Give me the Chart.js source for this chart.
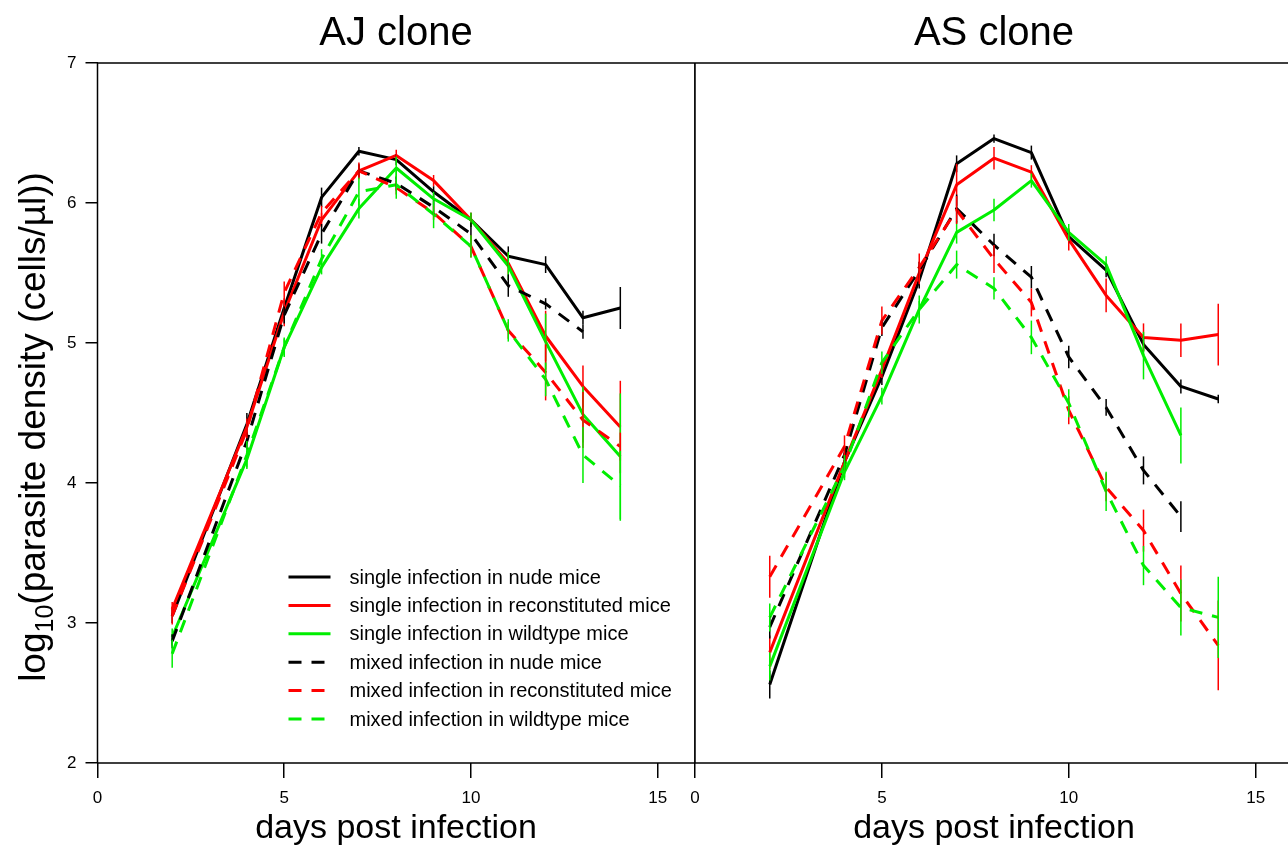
<!DOCTYPE html>
<html>
<head>
<meta charset="utf-8">
<script src="https://cdn.jsdelivr.net/npm/chart.js@4"></script>
<style>
  html, body { margin: 0; padding: 0; background: #fff; overflow: hidden; }
  body { width: 1288px; height: 845px; position: relative; font-family: "Liberation Sans", Arial, sans-serif; color: #000; }
  canvas { position: absolute; top: 0; }
  #aj { left: 0; }
  #as { left: 680px; }
  .lbl { position: absolute; text-align: center; white-space: nowrap; }
  .main { font-size: 40px; line-height: 40px; top: 11px; width: 598px; }
  .xt { font-size: 34px; line-height: 34px; top: 809px; width: 598px; }
  #ytitle { font-size: 37px; line-height: 40px; width: 640px; left: -287px; top: 407px; transform: rotate(-90deg); }
  #ytitle sub { font-size: 25px; vertical-align: -8px; line-height: 0; }
</style>
</head>
<body>
<canvas id="aj" width="695" height="845"></canvas>
<canvas id="as" width="613" height="845"></canvas>
<div class="lbl main" style="left:97px">AJ clone</div>
<div class="lbl main" style="left:695px">AS clone</div>
<div class="lbl xt" style="left:97px">days post infection</div>
<div class="lbl xt" style="left:695px">days post infection</div>
<div class="lbl" id="ytitle">log<sub>10</sub>(parasite density (cells/µl))</div>
<script>
(function () {
  // days sampled
  const days = [2, 4, 5, 6, 7, 8, 9, 10, 11, 12, 13, 14];
  const xTicks = [0, 5, 10, 15];
  const yTicks = [2, 3, 4, 5, 6, 7];

  const seriesLabels = [
    "single infection in nude mice",
    "single infection in reconstituted mice",
    "single infection in wildtype mice",
    "mixed infection in nude mice",
    "mixed infection in reconstituted mice",
    "mixed infection in wildtype mice",
  ];

  // AJ clone
  const ajSingleNude  = [3.05, 4.42, 5.25, 6.04, 6.37, 6.31, 6.08, 5.88, 5.62, 5.56, 5.18, 5.25];
  const ajSingleRecon = [3.10, 4.40, 5.22, 5.88, 6.23, 6.34, 6.16, 5.88, 5.57, 5.05, 4.69, 4.40];
  const ajSingleWild  = [2.90, 4.17, 4.97, 5.54, 5.96, 6.25, 6.03, 5.88, 5.55, 5.01, 4.49, 4.19];
  const ajMixedNude   = [2.87, 4.30, 5.20, 5.78, 6.23, 6.14, 5.97, 5.78, 5.41, 5.28, 5.08, null];
  const ajMixedRecon  = [3.05, 4.38, 5.36, 5.93, 6.23, 6.11, 5.93, 5.69, 5.09, 4.79, 4.45, 4.26];
  const ajMixedWild   = [2.78, 4.20, 4.97, 5.60, 6.08, 6.13, 5.92, 5.69, 5.09, 4.74, 4.20, 3.98];

  const ajSingleNudeErr  = [0.05, 0.08, 0.05, 0.07, 0.03, 0.04, 0.04, 0.05, 0.07, 0.06, 0.05, 0.15];
  const ajSingleReconErr = [0.05, 0.06, 0.10, 0.05, 0.04, 0.04, 0.04, 0.05, 0.08, 0.18, 0.15, 0.33];
  const ajSingleWildErr  = [0.06, 0.06, 0.06, 0.05, 0.07, 0.08, 0.05, 0.05, 0.10, 0.20, 0.20, 0.45];
  const ajMixedNudeErr   = [0.05, 0.06, 0.06, 0.07, 0.05, 0.05, 0.05, 0.08, 0.08, 0.04, 0.05, null];
  const ajMixedReconErr  = [0.06, 0.06, 0.08, 0.05, 0.06, 0.05, 0.05, 0.08, 0.06, 0.20, 0.20, 0.10];
  const ajMixedWildErr   = [0.10, 0.10, 0.07, 0.07, 0.10, 0.10, 0.10, 0.08, 0.08, 0.12, 0.20, 0.25];

  // AS clone
  const asSingleNude  = [2.56, 4.15, 4.76, 5.45, 6.28, 6.46, 6.36, 5.76, 5.52, 4.99, 4.69, 4.60];
  const asSingleRecon = [2.79, 4.15, 4.81, 5.50, 6.13, 6.32, 6.22, 5.74, 5.34, 5.04, 5.02, 5.06];
  const asSingleWild  = [2.69, 4.08, 4.62, 5.24, 5.79, 5.95, 6.16, 5.79, 5.56, 4.91, 4.34, null];
  const asMixedNude   = [2.97, 4.20, 5.11, 5.52, 5.96, 5.70, 5.47, 4.90, 4.54, 4.09, 3.76, null];
  const asMixedRecon  = [3.33, 4.26, 5.16, 5.54, 5.95, 5.60, 5.29, 4.52, 3.97, 3.66, 3.21, 2.84];
  const asMixedWild   = [3.04, 4.12, 4.86, 5.24, 5.56, 5.39, 5.04, 4.57, 3.94, 3.41, 3.11, 3.04];

  const asSingleNudeErr  = [0.10, 0.06, 0.06, 0.06, 0.06, 0.03, 0.05, 0.05, 0.05, 0.05, 0.05, 0.03];
  const asSingleReconErr = [0.12, 0.06, 0.06, 0.08, 0.15, 0.08, 0.05, 0.08, 0.12, 0.10, 0.12, 0.22];
  const asSingleWildErr  = [0.10, 0.06, 0.06, 0.06, 0.08, 0.08, 0.05, 0.06, 0.06, 0.17, 0.20, null];
  const asMixedNudeErr   = [0.08, 0.06, 0.06, 0.06, 0.10, 0.08, 0.08, 0.08, 0.06, 0.10, 0.11, null];
  const asMixedReconErr  = [0.15, 0.08, 0.10, 0.10, 0.10, 0.10, 0.10, 0.10, 0.10, 0.15, 0.20, 0.32];
  const asMixedWildErr   = [0.10, 0.08, 0.08, 0.10, 0.10, 0.08, 0.12, 0.10, 0.14, 0.14, 0.20, 0.29];

  const colors = ["#000000", "#ff0000", "#00ee00", "#000000", "#ff0000", "#00ee00"];
  const DASH = [13, 10];
  const FONT = "'Liberation Sans', Arial, sans-serif";

  function makeDatasets(vals, errs) {
    return vals.map((v, i) => ({
      label: seriesLabels[i],
      data: days.map((d, k) => ({ x: d, y: v[k] })),
      errors: errs[i],
      borderColor: colors[i],
      backgroundColor: colors[i],
      borderWidth: 3,
      borderDash: i >= 3 ? DASH : [],
      borderCapStyle: "butt",
      borderJoinStyle: "round",
      pointRadius: 0,
      tension: 0,
      fill: false,
      order: 6 - i,
    }));
  }

  const frame = {
    id: "frame",
    afterDraw(chart) {
      const { ctx, chartArea: a } = chart;
      ctx.save();
      ctx.strokeStyle = "#000";
      ctx.lineWidth = 1.5;
      ctx.beginPath();
      ctx.moveTo(a.left, a.top); ctx.lineTo(a.right, a.top);
      ctx.moveTo(a.left, a.top); ctx.lineTo(a.left, a.bottom);
      ctx.moveTo(a.right, a.top); ctx.lineTo(a.right, a.bottom);
      ctx.moveTo(a.left, a.bottom); ctx.lineTo(a.right, a.bottom);
      ctx.stroke();
      ctx.restore();
    },
  };

  const errorBars = {
    id: "errorBars",
    afterDatasetsDraw(chart) {
      const { ctx, scales } = chart;
      ctx.save();
      ctx.lineWidth = 1.5;
      chart.data.datasets.forEach((ds) => {
        ctx.strokeStyle = ds.borderColor;
        ds.data.forEach((p, k) => {
          const e = ds.errors[k];
          if (p.y === null || e === null) return;
          const x = scales.x.getPixelForValue(p.x);
          ctx.beginPath();
          ctx.moveTo(x, scales.y.getPixelForValue(p.y - e));
          ctx.lineTo(x, scales.y.getPixelForValue(p.y + e));
          ctx.stroke();
        });
      });
      ctx.restore();
    },
  };

  const legendBox = {
    id: "legendBox",
    afterDraw(chart) {
      if (!chart.options.plugins.legendBox || !chart.options.plugins.legendBox.show) return;
      const { ctx, chartArea: a } = chart;
      ctx.save();
      ctx.font = "20px " + FONT;
      ctx.textBaseline = "middle";
      ctx.fillStyle = "#000";
      chart.data.datasets.forEach((ds, i) => {
        const y = 577 + i * 28.4;
        ctx.strokeStyle = ds.borderColor;
        ctx.lineWidth = 3;
        ctx.setLineDash(ds.borderDash);
        ctx.beginPath();
        ctx.moveTo(a.left + 191, y);
        ctx.lineTo(a.left + 233, y);
        ctx.stroke();
        ctx.setLineDash([]);
        ctx.fillText(ds.label, a.left + 252, y + 1);
      });
      ctx.restore();
    },
  };

  function baseOptions(showY, showLegend) {
    return {
      responsive: false,
      animation: false,
      layout: { padding: { top: 63, left: showY ? 0 : 15, right: 0, bottom: 0 } },
      plugins: {
        legend: { display: false },
        tooltip: { enabled: false },
        legendBox: { show: showLegend },
      },
      scales: {
        x: {
          type: "linear",
          min: 0,
          max: 16,
          afterBuildTicks: (s) => { s.ticks = xTicks.map((v) => ({ value: v })); },
          ticks: { color: "#000", font: { size: 17, family: FONT }, padding: 10, maxRotation: 0 },
          grid: { drawOnChartArea: false, tickLength: 15, color: "#000", lineWidth: 1.5 },
          border: { display: false },
          afterFit: (s) => { s.height = 82; },
        },
        y: {
          type: "linear",
          min: 2,
          max: 7,
          display: showY,
          afterBuildTicks: (s) => { s.ticks = yTicks.map((v) => ({ value: v })); },
          ticks: { color: "#000", font: { size: 17, family: FONT }, padding: 9 },
          grid: { drawOnChartArea: false, tickLength: 12, color: "#000", lineWidth: 1.5 },
          border: { display: false },
          afterFit: (s) => { s.width = showY ? 97.5 : 0; },
        },
      },
    };
  }

  new Chart(document.getElementById("aj"), {
    type: "line",
    data: {
      datasets: makeDatasets(
        [ajSingleNude, ajSingleRecon, ajSingleWild, ajMixedNude, ajMixedRecon, ajMixedWild],
        [ajSingleNudeErr, ajSingleReconErr, ajSingleWildErr, ajMixedNudeErr, ajMixedReconErr, ajMixedWildErr]
      ),
    },
    options: baseOptions(true, true),
    plugins: [frame, errorBars, legendBox],
  });

  new Chart(document.getElementById("as"), {
    type: "line",
    data: {
      datasets: makeDatasets(
        [asSingleNude, asSingleRecon, asSingleWild, asMixedNude, asMixedRecon, asMixedWild],
        [asSingleNudeErr, asSingleReconErr, asSingleWildErr, asMixedNudeErr, asMixedReconErr, asMixedWildErr]
      ),
    },
    options: baseOptions(false, false),
    plugins: [frame, errorBars],
  });
})();
</script>
</body>
</html>
